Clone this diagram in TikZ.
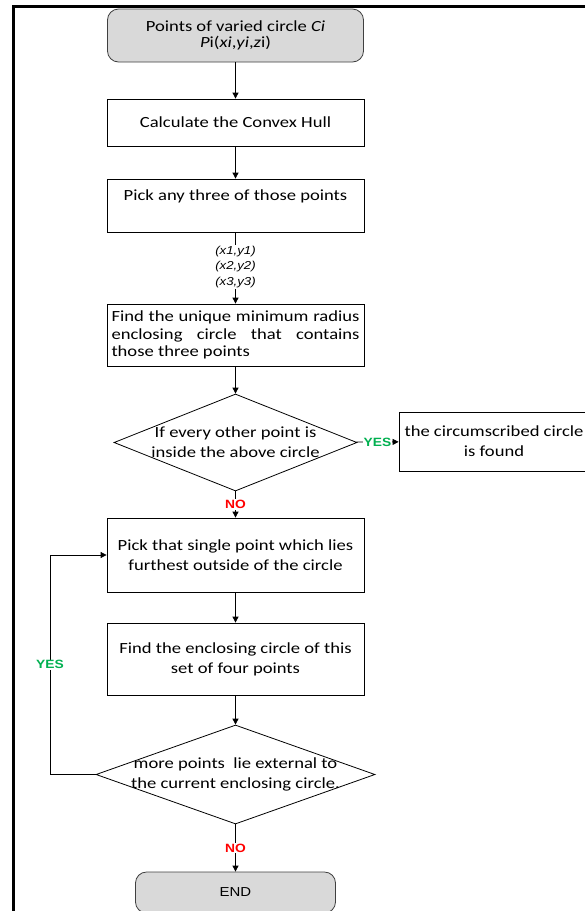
\documentclass[tikz,border=0pt]{standalone}
\usepackage{fontspec}
\newfontfamily\bodyfont[FakeStretch=1.2]{Carlito}
\newfontfamily\labfont[FakeStretch=1.15]{Liberation Sans}
\usetikzlibrary{shapes.geometric,arrows.meta}
\definecolor{termfill}{RGB}{217,217,217}
\definecolor{yesgreen}{RGB}{0,176,80}
\definecolor{nored}{RGB}{255,0,0}

\begin{document}
\begin{tikzpicture}[x=1pt,y=-1pt,
  every node/.style={inner sep=2pt},
  body/.style={font=\bodyfont\fontsize{15.5}{20}\selectfont, align=center},
  proc/.style={body, draw, line width=0.8pt, minimum width=257pt},
  term/.style={body, draw=black!75, fill=termfill, rounded corners=11pt, line width=0.8pt},
  dec/.style={draw, shape=diamond, line width=0.8pt, inner sep=0pt},
  arr/.style={-{Triangle[length=6pt,width=6pt]}, line width=0.8pt},
  link/.style={line width=0.8pt},
  tag/.style={font=\labfont\bfseries\fontsize{12}{13}\selectfont, fill=white, inner sep=1pt},
  yes/.style={tag, text=yesgreen},
  no/.style={tag, text=nored},
]
\useasboundingbox (0,0) rectangle (585,911);
% page frame
\draw[line width=3pt] (13,915) -- (13,6.5) -- (600,6.5);

% main column
\node[term, minimum width=256pt, minimum height=53pt,
      font=\bodyfont\fontsize{15.5}{16}\selectfont] (start) at (235.5,35.5)
  {Points of varied circle \textit{Ci}\\\textit{P}i(\textit{xi},\textit{yi},\textit{z}i)};
\node[proc, minimum height=47pt] (hull) at (235.5,122.5) {Calculate the Convex Hull};
\node[proc, minimum height=53pt] (pick3) at (235.5,205.5) {Pick any three of those points\\\mbox{}};
\node[font=\labfont\itshape\fontsize{11.5}{15.5}\selectfont, align=center, inner sep=1pt]
  (pts) at (235.5,267) {(x1,y1)\\(x2,y2)\\(x3,y3)};
\node[proc, minimum height=62pt, align=left, font=\bodyfont\fontsize{15.5}{17.5}\selectfont]
  (mec) at (235.5,335)
  {\makebox[248pt][s]{Find the unique minimum radius}\\
   \makebox[248pt][s]{enclosing circle that contains}\\
   those three points};
\node[dec, minimum width=243pt, minimum height=97pt,
      label={[body]center:{If every other point is\\inside the above circle}}]
  (inside) at (235.5,442.5) {};
\node[proc, minimum width=190pt, minimum height=59pt] (found) at (494,441.5)
  {the circumscribed circle\\is found};
\node[proc, minimum height=74pt] (far) at (235.5,555)
  {Pick that single point which lies\\furthest outside of the circle};
\node[proc, minimum height=72pt] (four) at (235.5,659)
  {Find the enclosing circle of this\\set of four points};
\node[dec, minimum width=279pt, minimum height=99pt,
      label={[body]center:{more points\ \ lie external to\\the current enclosing circle.}}]
  (more) at (235.5,774.5) {};
\node[term, minimum width=200pt, minimum height=41pt,
      font=\labfont\fontsize{13}{15}\selectfont] (done) at (235.5,892.5) {END};

% connectors
\draw[arr] (start) -- (hull);
\draw[arr] (hull) -- (pick3);
\draw[link] (pick3) -- (pts);
\draw[arr] (pts) -- (mec);
\draw[arr] (mec) -- (inside);
\draw[arr] (inside) -- node[yes] {YES} (found);
\draw[arr] (inside) -- node[no] {NO} (far);
\draw[arr] (far) -- (four);
\draw[arr] (four) -- (more);
\draw[arr] (more) -- node[no] {NO} (done);
\coordinate (loop) at (50,774.5);
\draw[arr] (more.west) -- (loop) |- node[yes, pos=0.25] {YES} (far.west);
\end{tikzpicture}
\end{document}
